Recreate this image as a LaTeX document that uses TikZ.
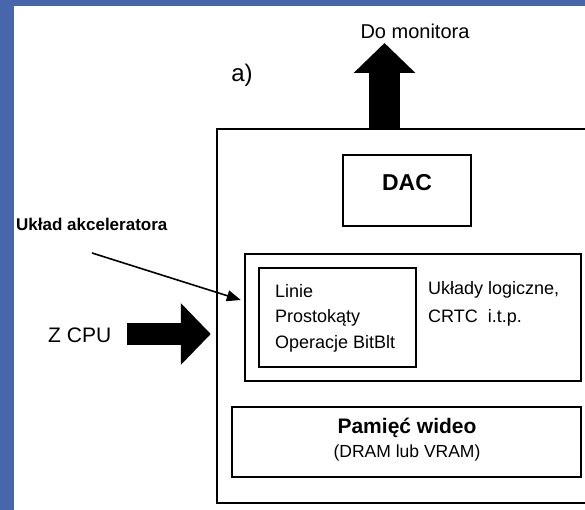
\documentclass[tikz,border=0pt]{standalone}
\usepackage{fontspec}
\setmainfont{Liberation Sans}
\usetikzlibrary{arrows.meta}
\definecolor{slideblue}{RGB}{72,102,172}
\tikzset{
  block/.style={draw=black, line width=2.4pt, rectangle, inner sep=0pt},
  heavy/.style={block, line width=2.8pt},
  fatarrow/.style={line width=#1, -{Triangle[width=60pt,length=30pt]}},
  thinarrow/.style={line width=1.6pt, -{Triangle[width=11pt,length=14pt]}},
  txt/.style={inner sep=0pt, anchor=base west},
}
\newcommand{\fs}[1]{\fontsize{#1}{#1}\selectfont}
\begin{document}
\begin{tikzpicture}[x=1pt,y=-1pt]
  \useasboundingbox (0,0) rectangle (585,510);
  \clip (0,0) rectangle (585,510);
  % slide background with blue edges
  \fill[white] (0,0) rectangle (585,510);
  \fill[slideblue] (0,0) rectangle (14,510);
  \fill[slideblue] (0,0) rectangle (585,6);

  % graphics card outline (runs off the right edge)
  \node[block, minimum width=383pt, minimum height=374pt] (outer) at (408.5,316) {};

  % DAC
  \node[block, minimum width=128pt, minimum height=71pt] (dac) at (407,190.5) {};
  \node[inner sep=0pt, font=\fs{23}\bfseries] (dactxt) at (407,183) {DAC};

  % accelerator block
  \node[block, minimum width=336pt, minimum height=127pt] (accel) at (413,317.5) {};
  \node[heavy, minimum width=157pt, minimum height=99pt] (ops) at (337.5,317.5) {};
  \node[txt, font=\fs{18}] (ops1) at (275,297) {Linie};
  \node[txt, font=\fs{18}] (ops2) at (275,322) {Prostokąty};
  \node[txt, font=\fs{18}] (ops3) at (275,348) {Operacje BitBlt};
  \node[txt, font=\fs{18}] (logic1) at (428,294) {Układy logiczne,};
  \node[txt, font=\fs{18}] (logic2) at (428,322) {CRTC\ \ i.t.p.};

  % video memory
  \node[heavy, minimum width=349pt, minimum height=70pt] (mem) at (406.5,442) {};
  \node[inner sep=0pt, font=\fs{21}\bfseries] (memtxt) at (407,428) {Pamięć wideo};
  \node[inner sep=0pt, font=\fs{17.5}] (memsub) at (407,453) {(DRAM lub VRAM)};

  % labels
  \node[inner sep=0pt, font=\fs{20}] (monitor) at (415,31) {Do monitora};
  \node[inner sep=0pt, font=\fs{24}] (label) at (242,75) {a)};
  \node[txt, font=\fs{17}\bfseries] (acctxt) at (16,230) {Układ akceleratora};
  \node[txt, font=\fs{21}] (cpu) at (48,342) {Z CPU};

  % connectors
  \coordinate (montip) at (384.5,43);
  \draw[fatarrow=31pt] (montip |- outer.north) -- (montip);
  \coordinate (cpustart) at (127,334);
  \draw[fatarrow=22pt] (cpustart) -- ([xshift=-5pt]outer.west |- cpustart);
  \coordinate (accstart) at (92,253);
  \draw[thinarrow] (accstart) -- ([shift={(-3,-17.5)}]accel.west);
\end{tikzpicture}
\end{document}
